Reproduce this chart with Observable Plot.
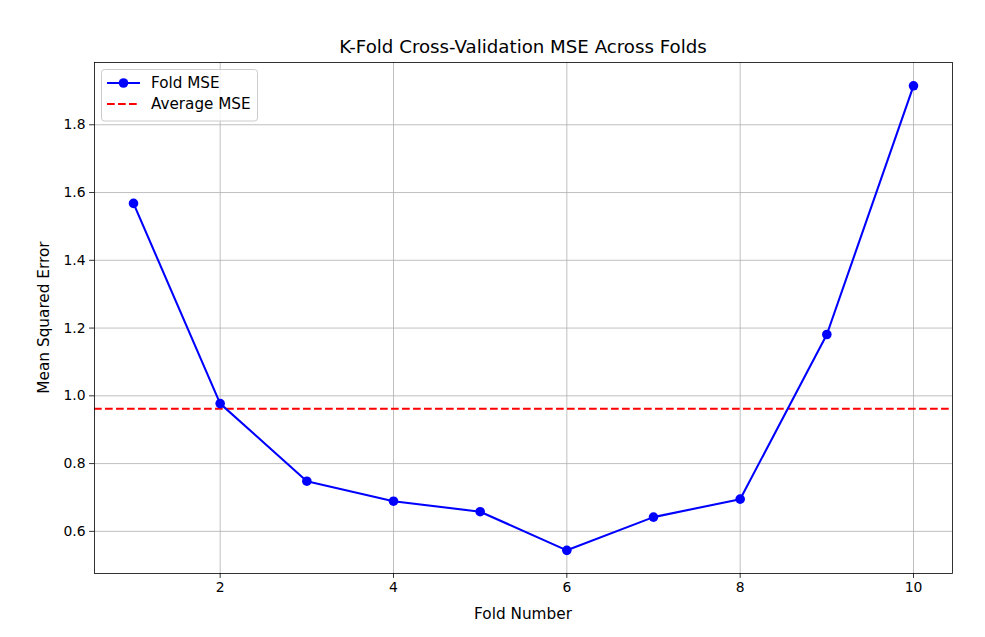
<!DOCTYPE html>
<html>
<head>
<meta charset="utf-8">
<script src="https://cdn.jsdelivr.net/npm/d3@7"></script>
<script src="https://cdn.jsdelivr.net/npm/@observablehq/plot@0.6"></script>
<style>
  html, body { margin: 0; padding: 0; background: #fff; }
  #chart { width: 985px; height: 637px; }
  svg { font-family: "DejaVu Sans", sans-serif; }
</style>
</head>
<body>
<div id="chart"></div>
<script>
const folds = [1, 2, 3, 4, 5, 6, 7, 8, 9, 10];
const mse = [1.568, 0.977, 0.748, 0.689, 0.658, 0.544, 0.642, 0.695, 1.181, 1.915];
const avgMse = 0.962;
const xTicks = [2, 4, 6, 8, 10];
const yTicks = [0.6, 0.8, 1.0, 1.2, 1.4, 1.6, 1.8];
const titleText = "K-Fold Cross-Validation MSE Across Folds";
const xLabel = "Fold Number";
const yLabel = "Mean Squared Error";
const legendLabels = ["Fold MSE", "Average MSE"];

const data = folds.map((f, i) => ({fold: f, mse: mse[i]}));

const W = 985, H = 637;
const mL = 94, mR = 33, mT = 62, mB = 64;

const plot = Plot.plot({
  width: W,
  height: H,
  marginLeft: mL,
  marginRight: mR,
  marginTop: mT,
  marginBottom: mB,
  style: {fontFamily: "DejaVu Sans, sans-serif", fontSize: "13.9px", background: "white", overflow: "visible"},
  x: {domain: [0.55, 10.45], ticks: xTicks},
  y: {domain: [0.4756, 1.9838], ticks: yTicks},
  marks: [
    Plot.gridX(xTicks, {stroke: "#b0b0b0", strokeOpacity: 1, strokeWidth: 0.8}),
    Plot.gridY(yTicks, {stroke: "#b0b0b0", strokeOpacity: 1, strokeWidth: 0.8}),
    Plot.ruleY([avgMse], {stroke: "#ff0000", strokeWidth: 2.08, strokeDasharray: "7.7,3.3"}),
    Plot.line(data, {x: "fold", y: "mse", stroke: "#0000ff", strokeWidth: 2.08}),
    Plot.dot(data, {x: "fold", y: "mse", r: 4.8, fill: "#0000ff", stroke: "none"}),
    Plot.axisX(xTicks, {tickSize: 4.9, tickPadding: 4, fontSize: 13.9, stroke: "black", strokeWidth: 0.8, label: null, fill: "black"}),
    Plot.axisY(yTicks, {tickSize: 4.9, tickPadding: 4, fontSize: 13.9, stroke: "black", strokeWidth: 0.8, label: null, fill: "black", tickFormat: d => d.toFixed(1)}),
    Plot.frame({stroke: "black", strokeWidth: 0.8})
  ]
});

document.getElementById("chart").appendChild(plot);

const svg = d3.select(plot);
const cx = (mL + (W - mR)) / 2;

svg.append("text")
  .attr("x", cx).attr("y", 52.5)
  .attr("text-anchor", "middle")
  .attr("font-size", 18.2)
  .attr("fill", "black")
  .text(titleText);

svg.append("text")
  .attr("x", cx).attr("y", 619)
  .attr("text-anchor", "middle")
  .attr("font-size", 15.3)
  .attr("fill", "black")
  .text(xLabel);

svg.append("text")
  .attr("transform", `translate(49, ${(mT + H - mB) / 2}) rotate(-90)`)
  .attr("text-anchor", "middle")
  .attr("font-size", 15.3)
  .attr("fill", "black")
  .text(yLabel);

// Legend
const lg = svg.append("g");
lg.append("rect")
  .attr("x", 101.5).attr("y", 69.5).attr("width", 156).attr("height", 51.5)
  .attr("rx", 3).attr("fill", "white").attr("fill-opacity", 0.8)
  .attr("stroke", "#cccccc").attr("stroke-width", 1);
lg.append("line")
  .attr("x1", 107).attr("x2", 140).attr("y1", 83).attr("y2", 83)
  .attr("stroke", "#0000ff").attr("stroke-width", 2.08);
lg.append("circle")
  .attr("cx", 123.5).attr("cy", 83).attr("r", 4.8).attr("fill", "#0000ff");
lg.append("text")
  .attr("x", 151).attr("y", 83).attr("dy", "0.35em")
  .attr("text-anchor", "start")
  .attr("font-size", 15.2).attr("fill", "black")
  .text(legendLabels[0]);
lg.append("line")
  .attr("x1", 107).attr("x2", 140).attr("y1", 104).attr("y2", 104)
  .attr("stroke", "#ff0000").attr("stroke-width", 2.08).attr("stroke-dasharray", "7.7,3.3");
lg.append("text")
  .attr("x", 151).attr("y", 104).attr("dy", "0.35em")
  .attr("text-anchor", "start")
  .attr("font-size", 15.2).attr("fill", "black")
  .text(legendLabels[1]);
</script>
</body>
</html>
